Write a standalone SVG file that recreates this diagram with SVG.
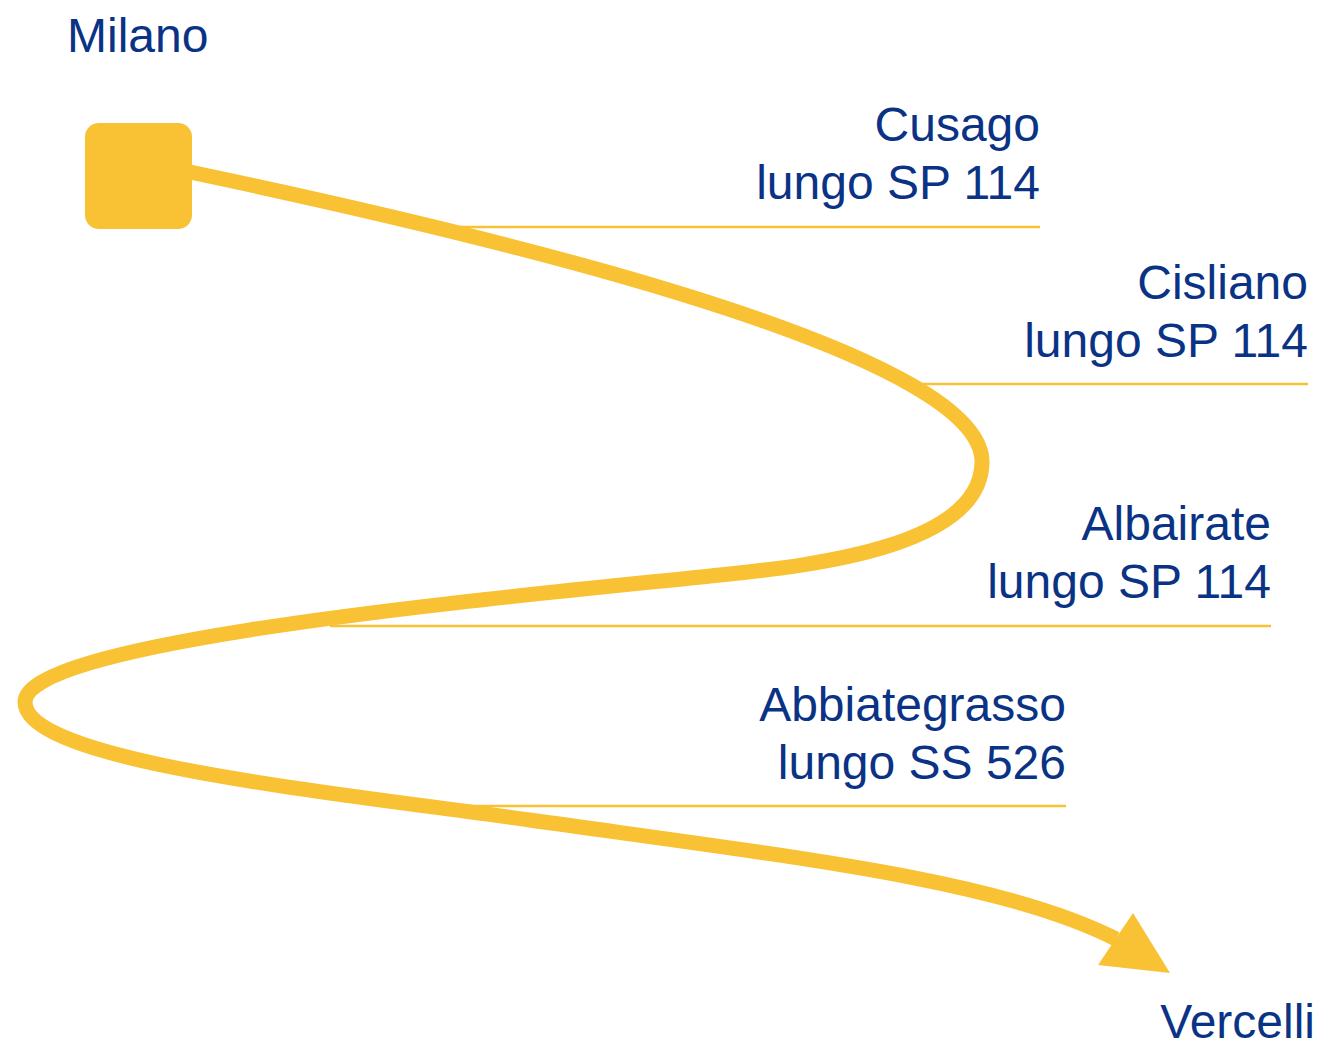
<svg xmlns="http://www.w3.org/2000/svg" width="1317" height="1046" viewBox="0 0 1317 1046">
<style>
.t{font-family:"Liberation Sans",Arial,Helvetica,sans-serif;font-size:48px;fill:#0A3385}
.r{text-anchor:end}
.lead{stroke:#F8C234;stroke-width:2.5;fill:none}
.route{stroke:#F8C234;stroke-width:15;fill:none;stroke-linecap:butt;stroke-linejoin:round}
</style>
<rect width="1317" height="1046" fill="#ffffff"/>
<g id="connectors">
<line class="lead" x1="455" y1="227" x2="1040" y2="227"/>
<line class="lead" x1="920" y1="384" x2="1308" y2="384"/>
<line class="lead" x1="330" y1="626" x2="1271" y2="626"/>
<line class="lead" x1="435" y1="806" x2="1066" y2="806"/>
<path class="route" d="M190,172 C 560,250 985,360 982,463 C 980,545 820,565 720,575 C 500,598 25,640 25,702 C 25,762 330,792 530,820 C 800,858 1000,880 1116,939"/>
<polygon points="1133,913 1170,973 1098,965" fill="#F8C234"/>
</g>
<g id="milano">
<rect x="85" y="123" width="107" height="106" rx="14" fill="#F8C234"/>
<text class="t" x="67" y="52">Milano</text>
</g>
<g id="cusago">
<text class="t r" x="1040" y="141">Cusago</text>
<text class="t r" x="1040" y="199">lungo SP 114</text>
</g>
<g id="cisliano">
<text class="t r" x="1308" y="299">Cisliano</text>
<text class="t r" x="1308" y="357">lungo SP 114</text>
</g>
<g id="albairate">
<text class="t r" x="1271" y="540">Albairate</text>
<text class="t r" x="1271" y="598">lungo SP 114</text>
</g>
<g id="abbiategrasso">
<text class="t r" x="1066" y="721">Abbiategrasso</text>
<text class="t r" x="1066" y="779">lungo SS 526</text>
</g>
<g id="vercelli">
<text class="t r" x="1315" y="1038">Vercelli</text>
</g>
</svg>
